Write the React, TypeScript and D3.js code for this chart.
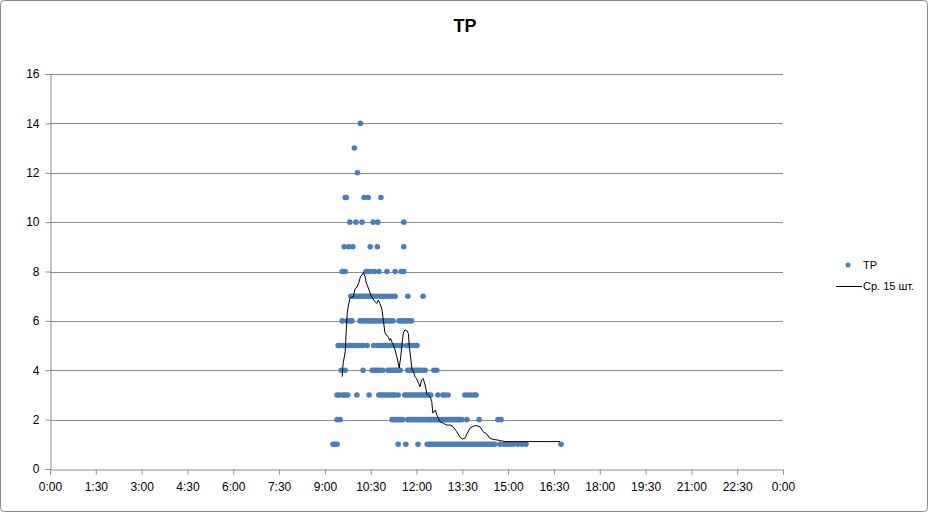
import React, { useRef, useEffect } from "react";
import * as d3 from "d3";

// TP values: times of each point, grouped by value
const tp1 = ["9:16", "9:20", "9:24", "11:24", "11:39", "12:03", "12:21", "12:25", "12:28", "12:32", "12:36", "12:40", "12:44", "12:48", "12:52", "12:56", "13:00", "13:04", "13:08", "13:12", "13:16", "13:20", "13:23", "13:27", "13:31", "13:35", "13:39", "13:43", "13:47", "13:51", "13:55", "13:59", "14:03", "14:07", "14:11", "14:15", "14:18", "14:22", "14:26", "14:30", "14:34", "14:44", "14:52", "14:58", "15:04", "15:10", "15:19", "15:27", "15:35", "16:44"];
const tp2 = ["9:24", "9:30", "11:12", "11:16", "11:20", "11:24", "11:28", "11:33", "11:43", "11:47", "11:51", "11:55", "11:59", "12:03", "12:07", "12:11", "12:15", "12:19", "12:23", "12:27", "12:30", "12:34", "12:38", "12:42", "12:46", "12:50", "12:54", "12:58", "13:02", "13:06", "13:10", "13:14", "13:18", "13:22", "13:25", "13:29", "13:39", "14:03", "14:40", "14:46"];
const tp3 = ["9:24", "9:28", "9:34", "9:38", "9:41", "9:45", "10:03", "10:27", "10:46", "10:50", "10:54", "10:58", "11:02", "11:06", "11:10", "11:14", "11:18", "11:24", "11:37", "11:41", "11:45", "11:49", "11:53", "11:57", "12:01", "12:05", "12:09", "12:13", "12:17", "12:21", "12:25", "12:28", "12:42", "12:52", "12:56", "13:02", "13:35", "13:41", "13:47", "13:53", "13:57"];
const tp4 = ["9:32", "9:40", "10:15", "10:33", "10:36", "10:40", "10:44", "10:48", "10:54", "11:04", "11:08", "11:12", "11:16", "11:20", "11:24", "11:28", "11:43", "11:47", "11:51", "11:55", "11:59", "12:03", "12:07", "12:11", "12:17", "12:34", "12:40"];
const tp5 = ["9:26", "9:30", "9:36", "9:40", "9:47", "9:51", "9:57", "10:03", "10:09", "10:15", "10:23", "10:36", "10:44", "10:48", "10:52", "10:56", "11:00", "11:04", "11:08", "11:16", "11:22", "11:28", "11:31", "11:41", "11:45", "11:49", "11:53", "11:57", "12:01"];
const tp6 = ["9:34", "9:43", "9:48", "9:53", "10:09", "10:14", "10:19", "10:24", "10:29", "10:34", "10:38", "10:42", "10:48", "10:54", "10:59", "11:04", "11:09", "11:14", "11:26", "11:31", "11:35", "11:40", "11:45", "11:50"];
const tp7 = ["9:51", "9:55", "9:59", "10:03", "10:07", "10:11", "10:15", "10:19", "10:23", "10:27", "10:31", "10:36", "10:42", "10:48", "10:54", "11:00", "11:06", "11:12", "11:18", "11:43", "12:13"];
const tp8 = ["9:34", "9:40", "10:21", "10:25", "10:29", "10:37", "10:46", "11:02", "11:18", "11:30", "11:35"];
const tp9 = ["9:38", "9:47", "9:55", "10:29", "10:43", "11:35"];
const tp10 = ["9:49", "10:01", "10:13", "10:35", "10:44", "11:35"];
const tp11 = ["9:40", "9:42", "10:17", "10:25", "10:50"];
const tp12 = ["10:04"];
const tp13 = ["9:58"];
const tp14 = ["10:10"];

// moving average "Ср. 15 шт."
const avgTimes = ["9:34", "9:36", "9:40", "9:42", "9:44", "9:46", "9:49", "9:53", "9:56", "9:59", "10:03", "10:07", "10:10", "10:13", "10:16", "10:19", "10:21", "10:23", "10:27", "10:30", "10:34", "10:38", "10:42", "10:45", "10:48", "10:52", "10:55", "10:58", "11:01", "11:05", "11:07", "11:09", "11:12", "11:14", "11:18", "11:21", "11:24", "11:26", "11:29", "11:31", "11:34", "11:37", "11:41", "11:44", "11:46", "11:49", "11:51", "11:54", "11:57", "12:00", "12:04", "12:07", "12:10", "12:13", "12:17", "12:20", "12:23", "12:27", "12:30", "12:32", "12:34", "12:37", "12:40", "12:43", "12:46", "12:53", "12:59", "13:06", "13:12", "13:19", "13:25", "13:30", "13:35", "13:39", "13:45", "13:52", "13:58", "14:05", "14:11", "14:18", "14:24", "14:31", "14:40", "14:54", "16:42"];
const avgValues = [3.74, 4.29, 4.75, 5.63, 6.31, 6.6, 6.89, 6.98, 6.98, 7.29, 7.37, 7.57, 7.8, 7.86, 7.96, 7.78, 7.57, 7.45, 7.25, 7.05, 6.91, 6.78, 6.71, 6.84, 6.71, 6.48, 6.0, 5.51, 5.43, 5.33, 5.21, 5.29, 5.12, 5.04, 4.82, 4.58, 4.29, 4.09, 4.54, 4.95, 5.5, 5.63, 5.61, 5.49, 4.95, 4.42, 4.05, 3.94, 3.74, 3.67, 3.47, 3.33, 3.61, 3.67, 3.4, 3.07, 3.0, 2.92, 2.73, 2.27, 2.31, 2.39, 2.19, 2.05, 1.92, 1.85, 1.78, 1.78, 1.71, 1.51, 1.31, 1.22, 1.24, 1.42, 1.65, 1.74, 1.76, 1.7, 1.51, 1.42, 1.24, 1.2, 1.17, 1.11, 1.11];

const xTickLabels = ["0:00", "1:30", "3:00", "4:30", "6:00", "7:30", "9:00", "10:30", "12:00", "13:30", "15:00", "16:30", "18:00", "19:30", "21:00", "22:30", "0:00"];
const yTicks = [0, 2, 4, 6, 8, 10, 12, 14, 16];

const toMin = (s: string) => {
  const [h, m] = s.split(":").map(Number);
  return h * 60 + m;
};

const W = 930;
const H = 514;
const FONT = "'Liberation Sans', Arial, sans-serif";

const App = () => {
  const svgRef = useRef<SVGSVGElement>(null);

  useEffect(() => {
    document.body.style.margin = "0";
    const svg = d3.select(svgRef.current);
    svg.selectAll("*").remove();

    const margin = { top: 74, right: 147, bottom: 45, left: 50 };
    const innerW = W - margin.left - margin.right;
    const innerH = H - margin.top - margin.bottom;

    const x = d3.scaleLinear().domain([0, 1440]).range([0, innerW]);
    const y = d3.scaleLinear().domain([0, 16]).range([innerH, 0]);

    svg.attr("viewBox", `0 0 ${W} ${H}`);

    // chart border
    svg
      .append("rect")
      .attr("x", 0.5)
      .attr("y", 0.5)
      .attr("width", W - 3)
      .attr("height", H - 3)
      .attr("rx", 4)
      .attr("fill", "#fff")
      .attr("stroke", "#888");

    svg
      .append("text")
      .attr("x", 465)
      .attr("y", 32)
      .attr("text-anchor", "middle")
      .attr("font-family", FONT)
      .attr("font-weight", "bold")
      .attr("font-size", 18)
      .text("TP");

    const g = svg.append("g").attr("transform", `translate(${margin.left},${margin.top})`);

    // gridlines
    g.selectAll(".grid")
      .data(yTicks.filter((d) => d > 0))
      .enter()
      .append("line")
      .attr("x1", 0)
      .attr("x2", innerW)
      .attr("y1", (d) => Math.round(y(d)) + 0.5)
      .attr("y2", (d) => Math.round(y(d)) + 0.5)
      .attr("stroke", "#8c8c8c");

    // y axis
    const yAxis = g
      .append("g")
      .attr("transform", "translate(0.5,0)")
      .call(d3.axisLeft(y).tickValues(yTicks).tickSize(5).tickPadding(6).tickFormat(d3.format("d")));
    // x axis
    const xAxis = g
      .append("g")
      .attr("transform", `translate(0,${innerH + 0.5})`)
      .call(
        d3
          .axisBottom(x)
          .tickValues(xTickLabels.map((_, i) => i * 90))
          .tickSize(5)
          .tickPadding(8)
          .tickFormat((_, i) => xTickLabels[i])
      );
    [yAxis, xAxis].forEach((a) => {
      a.select(".domain").attr("stroke", "#8c8c8c");
      a.selectAll(".tick line").attr("stroke", "#8c8c8c");
      a.selectAll("text").attr("font-family", FONT).attr("font-size", 12).attr("fill", "#000");
    });

    // scatter points
    const rows = [tp1, tp2, tp3, tp4, tp5, tp6, tp7, tp8, tp9, tp10, tp11, tp12, tp13, tp14];
    const points = rows.flatMap((times, i) => times.map((t) => ({ t: toMin(t), v: i + 1 })));
    g.selectAll("circle")
      .data(points)
      .enter()
      .append("circle")
      .attr("cx", (d) => x(d.t))
      .attr("cy", (d) => y(d.v))
      .attr("r", 2.8)
      .attr("fill", "#4a7ebb");

    // moving average line
    const avg = avgTimes.map((t, i) => ({ t: toMin(t), v: avgValues[i] }));
    const line = d3
      .line<{ t: number; v: number }>()
      .x((d) => x(d.t))
      .y((d) => y(d.v));
    g.append("path")
      .datum(avg)
      .attr("fill", "none")
      .attr("stroke", "#000")
      .attr("stroke-width", 1)
      .attr("d", line);

    // legend
    const lg = svg.append("g").attr("font-family", FONT).attr("font-size", 11);
    lg.append("circle").attr("cx", 848).attr("cy", 265).attr("r", 2.5).attr("fill", "#4a7ebb");
    lg.append("text").attr("x", 863).attr("y", 269).text("TP");
    lg.append("line").attr("x1", 836).attr("x2", 862).attr("y1", 286.5).attr("y2", 286.5).attr("stroke", "#000");
    lg.append("text").attr("x", 863).attr("y", 290).text("Ср. 15 шт.");
  }, []);

  return <svg ref={svgRef} width={W} height={H} style={{ display: "block" }} />;
};

export default App;
